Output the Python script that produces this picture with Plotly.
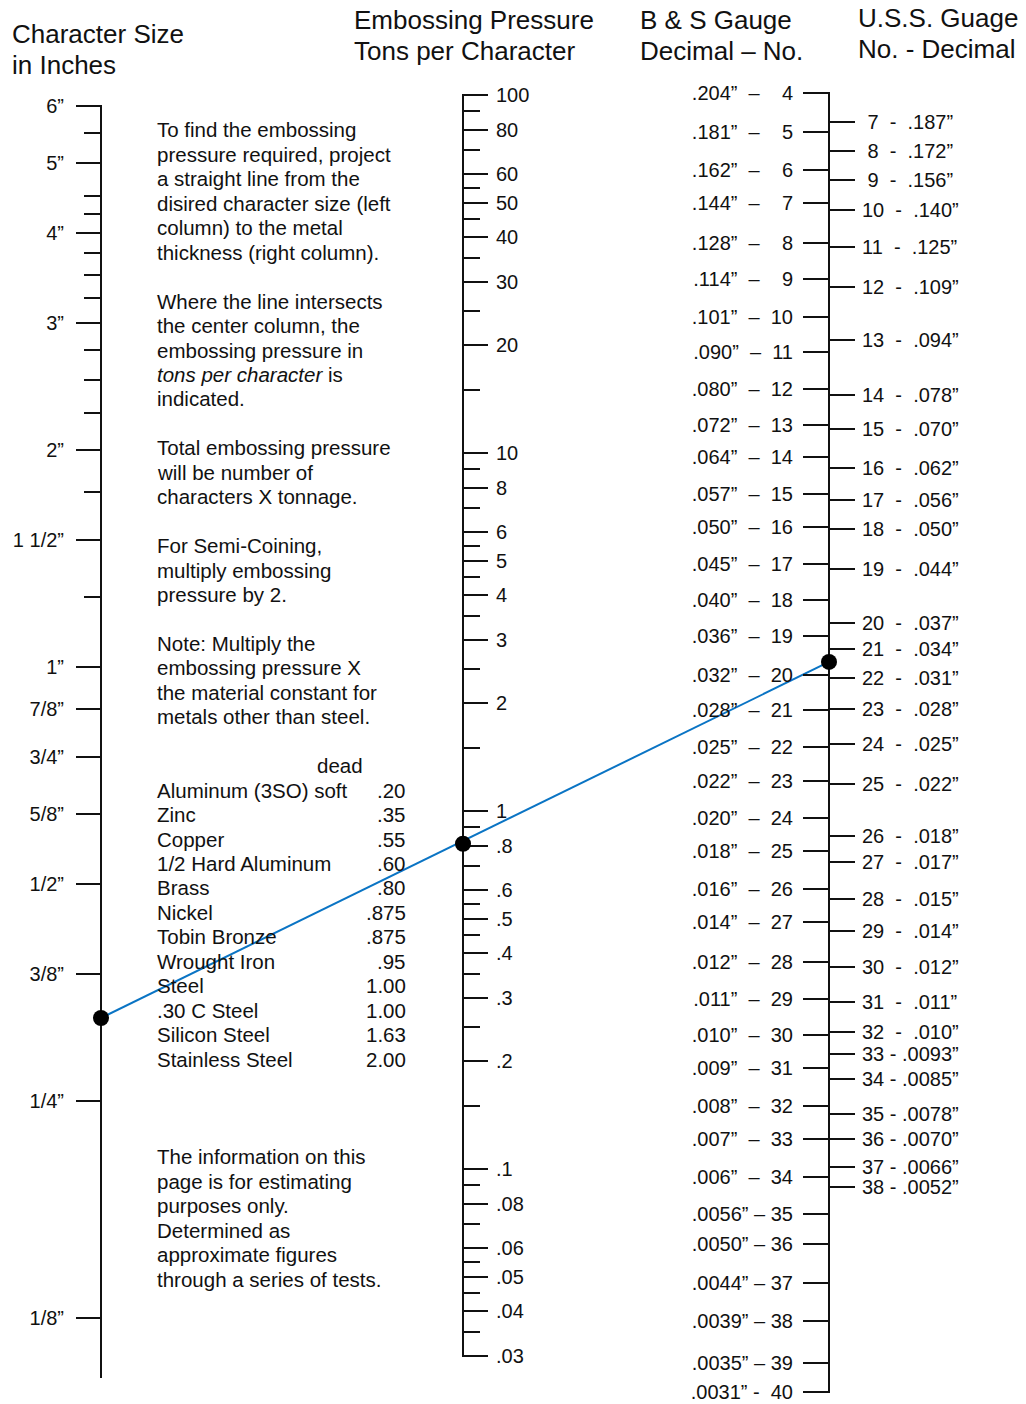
import math
import plotly.graph_objects as go

# ---------------- data ----------------
size_major_vals = [6, 5, 4, 3, 2, 1.5, 1, 0.875, 0.75, 0.625, 0.5, 0.375, 0.25, 0.125]
size_major_text = ["6”", "5”", "4”", "3”", "2”", "1 1/2”", "1”", "7/8”", "3/4”",
                   "5/8”", "1/2”", "3/8”", "1/4”", "1/8”"]
size_minor_vals = [5.5, 4.5, 4.25, 3.75, 3.5, 3.25, 2.75, 2.5, 2.25, 1.75, 1.25]

pressure_major_vals = [100, 80, 60, 50, 40, 30, 20, 10, 8, 6, 5, 4, 3, 2, 1,
                       0.8, 0.6, 0.5, 0.4, 0.3, 0.2, 0.1, 0.08, 0.06, 0.05, 0.04, 0.03]
pressure_major_text = ["100", "80", "60", "50", "40", "30", "20", "10", "8", "6", "5", "4", "3", "2", "1",
                       ".8", ".6", ".5", ".4", ".3", ".2", ".1", ".08", ".06", ".05", ".04", ".03"]
pressure_minor_vals = [90, 70, 55, 45, 35, 25, 15, 9, 7, 5.5, 4.5, 3.5, 2.5, 1.5,
                       0.9, 0.7, 0.55, 0.45, 0.35, 0.25, 0.15, 0.09, 0.07, 0.055, 0.045, 0.035]

bs_gauge = [4, 5, 6, 7, 8, 9, 10, 11, 12, 13, 14, 15, 16, 17, 18, 19, 20, 21, 22,
            23, 24, 25, 26, 27, 28, 29, 30, 31, 32, 33, 34, 35, 36, 37, 38, 39, 40]
bs_decimal = [".204", ".181", ".162", ".144", ".128", ".114", ".101", ".090", ".080", ".072",
              ".064", ".057", ".050", ".045", ".040", ".036", ".032", ".028", ".025", ".022",
              ".020", ".018", ".016", ".014", ".012", ".011", ".010", ".009", ".008", ".007",
              ".006", ".0056", ".0050", ".0044", ".0039", ".0035", ".0031"]
bs_tick_thickness = [0.204, 0.180, 0.159, 0.143, 0.126, 0.112, 0.0992, 0.0884, 0.0785, 0.0699,
                     0.0631, 0.0560, 0.0504, 0.0447, 0.0398, 0.0354, 0.0313, 0.0279, 0.0248, 0.0222,
                     0.0197, 0.0177, 0.0157, 0.0141, 0.0124, 0.0110, 0.0098, 0.0088, 0.0078, 0.0070,
                     0.0062, 0.0055, 0.0050, 0.0044, 0.0039, 0.0034, 0.0031]

uss_gauge = [7, 8, 9, 10, 11, 12, 13, 14, 15, 16, 17, 18, 19, 20, 21, 22, 23, 24, 25,
             26, 27, 28, 29, 30, 31, 32, 33, 34, 35, 36, 37, 38]
uss_decimal = [".187", ".172", ".156", ".140", ".125", ".109", ".094", ".078", ".070", ".062",
               ".056", ".050", ".044", ".037", ".034", ".031", ".028", ".025", ".022", ".018",
               ".017", ".015", ".014", ".012", ".011", ".010", ".0093", ".0085", ".0078", ".0070",
               ".0066", ".0052"]
uss_tick_thickness = [0.186, 0.169, 0.154, 0.140, 0.124, 0.109, 0.092, 0.077, 0.069, 0.061,
                      0.055, 0.050, 0.044, 0.037, 0.034, 0.031, 0.028, 0.025, 0.022, 0.0186,
                      0.0171, 0.0152, 0.0137, 0.0122, 0.0109, 0.0099, 0.0092, 0.0085, 0.0076, 0.0070,
                      0.0064, 0.0060]

# worked example drawn on the nomogram
example_size = 0.326        # inches
example_pressure = 0.81     # tons per character
example_thickness = 0.0326  # inches

materials = ["Aluminum (3SO) soft", "Zinc", "Copper", "1/2 Hard Aluminum", "Brass", "Nickel",
             "Tobin Bronze", "Wrought Iron", "Steel", ".30 C Steel", "Silicon Steel", "Stainless Steel"]
material_constant = [".20", ".35", ".55", ".60", ".80", ".875", ".875", ".95", "1.00", "1.00", "1.63", "2.00"]

column_titles = [["Character Size", "in Inches"],
                 ["Embossing Pressure", "Tons per Character"],
                 ["B & S Gauge", "Decimal – No."],
                 ["U.S.S. Guage", "No. - Decimal"]]

instructions = [
    ["To find the embossing", "pressure required, project", "a straight line from the",
     "disired character size (left", "column) to the metal", "thickness (right column)."],
    ["Where the line intersects", "the center column, the", "embossing pressure in",
     "<i>tons per character</i> is", "indicated."],
    ["Total embossing pressure", "will be number of", "characters X tonnage."],
    ["For Semi-Coining,", "multiply embossing", "pressure by 2."],
    ["Note: Multiply the", "embossing pressure X", "the material constant for",
     "metals other than steel."],
]
closing_note = ["The information on this", "page is for estimating", "purposes only.",
                "Determined as", "approximate figures", "through a series of tests."]
constant_header = "dead"

# ---------------- layout constants ----------------
W, H = 1026, 1404
FONT = "Liberation Sans, Arial, Helvetica, sans-serif"
INK = "#111111"
BLUE = "#0a74c4"
TICK_FONT = 20
TEXT_FONT = 20.5
TITLE_FONT = 26

SIZE_X, PRESS_X, GAUGE_X = 101, 463, 829
TEXT_X, CONST_RIGHT_X, HEADER_X = 155, 408, 315
LINE0, LINE_STEP = 130, 24.45
paragraph_rows = [0, 7, 13, 17, 21]
header_row, materials_row0, closing_row = 26, 27, 42
title_pos = [[(10, 34), (10, 65)], [(352, 20), (352, 51)], [(638, 20), (638, 51)], [(856, 18), (856, 49)]]

NBSP = "\u00a0"


def log_axis(top_val, top_px, bottom_px, px_per_decade, pad=0.6):
    # pad keeps the end ticks (and their labels) just inside the range
    r1 = math.log10(top_val) + pad / px_per_decade
    r0 = math.log10(top_val) - (bottom_px - top_px + pad) / px_per_decade
    return dict(type="log", range=[r0, r1],
                domain=[1 - (bottom_px + pad) / H, 1 - (top_px - pad) / H])


def styled(base, x_px, side, ticklen, standoff, tickvals, ticktext, minor_vals=None, minor_len=16):
    d = dict(base)
    d.update(anchor="free", position=x_px / W, side=side, showline=True, linecolor=INK, linewidth=2,
             ticks="outside", ticklen=ticklen, tickwidth=2, tickcolor=INK, tickmode="array",
             tickvals=tickvals, ticktext=ticktext,
             tickfont=dict(family=FONT, size=TICK_FONT, color=INK),
             showgrid=False, zeroline=False, fixedrange=True, ticklabelstandoff=standoff,
             ticklabeloverflow="allow", layer="below traces")
    if minor_vals:
        d["minor"] = dict(tickmode="array", tickvals=minor_vals, ticks="outside", ticklen=minor_len,
                          tickwidth=2, tickcolor=INK, showgrid=False)
    return d


size_scale = log_axis(6, 106, 1377, 721)
press_scale = log_axis(100, 95, 1356, 358)
gauge_scale = log_axis(0.204, 93, 1392, 714.4)


def paper_from_value(scale, v):
    d0, d1 = scale["domain"]
    r0, r1 = scale["range"]
    return d0 + (math.log10(v) - r0) / (r1 - r0) * (d1 - d0)


def value_from_paper(scale, f):
    d0, d1 = scale["domain"]
    r0, r1 = scale["range"]
    return 10 ** (r0 + (f - d0) / (d1 - d0) * (r1 - r0))


# tick labels for gauge columns
bs_labels = []
for g, d in zip(bs_gauge, bs_decimal):
    if g < 10:
        bs_labels.append(f"{d}”{NBSP*2}–{NBSP*4}{g}")
    elif g < 35:
        bs_labels.append(f"{d}”{NBSP*2}–{NBSP*2}{g}")
    elif g < 40:
        bs_labels.append(f"{d}”{NBSP}–{NBSP}{g}")
    else:
        bs_labels.append(f"{d}”{NBSP}-{NBSP*2}{g}")

uss_labels = []
for g, d in zip(uss_gauge, uss_decimal):
    if g < 10:
        uss_labels.append(f"{NBSP}{g}{NBSP*2}-{NBSP*2}{d}”")
    elif g < 33:
        uss_labels.append(f"{g}{NBSP*2}-{NBSP*2}{d}”")
    else:
        uss_labels.append(f"{g}{NBSP}-{NBSP}{d}”")

fig = go.Figure()

# example line (drawn on the left scale, ending at the gauge-scale thickness)
right_end_in_size_units = value_from_paper(size_scale, paper_from_value(gauge_scale, example_thickness))
fig.add_trace(go.Scatter(x=[SIZE_X / W, GAUGE_X / W], y=[example_size, right_end_in_size_units],
                         mode="lines", line=dict(color=BLUE, width=2), xaxis="x", yaxis="y",
                         hoverinfo="skip", showlegend=False))
dot = dict(color="black", size=16)
fig.add_trace(go.Scatter(x=[SIZE_X / W], y=[example_size], mode="markers", marker=dot,
                         xaxis="x", yaxis="y", showlegend=False, cliponaxis=False))
fig.add_trace(go.Scatter(x=[PRESS_X / W], y=[example_pressure], mode="markers", marker=dot,
                         xaxis="x", yaxis="y2", showlegend=False, cliponaxis=False))
fig.add_trace(go.Scatter(x=[GAUGE_X / W], y=[example_thickness], mode="markers", marker=dot,
                         xaxis="x", yaxis="y3", showlegend=False, cliponaxis=False))
fig.add_trace(go.Scatter(x=[GAUGE_X / W], y=[example_thickness], mode="markers",
                         marker=dict(color="rgba(0,0,0,0)", size=1),
                         xaxis="x", yaxis="y4", showlegend=False, hoverinfo="skip"))

annotations = []


def add_text(text, x_px, y_px, size=TEXT_FONT, xanchor="left"):
    annotations.append(dict(text=text, x=x_px / W, y=1 - y_px / H, xref="paper", yref="paper",
                            xanchor=xanchor, yanchor="middle", showarrow=False, align=xanchor,
                            font=dict(family=FONT, size=size, color=INK)))


for lines, positions in zip(column_titles, title_pos):
    for t, (x, y) in zip(lines, positions):
        add_text(t, x, y, size=TITLE_FONT)

for row0, para in zip(paragraph_rows, instructions):
    for i, t in enumerate(para):
        add_text(t, TEXT_X, LINE0 + LINE_STEP * (row0 + i))

add_text(constant_header, HEADER_X, LINE0 + LINE_STEP * header_row)
for i, (m, c) in enumerate(zip(materials, material_constant)):
    y = LINE0 + LINE_STEP * (materials_row0 + i)
    add_text(m, TEXT_X, y)
    add_text(c, CONST_RIGHT_X, y, xanchor="right")

for i, t in enumerate(closing_note):
    add_text(t, TEXT_X, LINE0 + LINE_STEP * (closing_row + i))

fig.update_layout(
    width=W, height=H, autosize=False,
    margin=dict(l=0, r=0, t=0, b=0, pad=0, autoexpand=False),
    paper_bgcolor="white", plot_bgcolor="rgba(0,0,0,0)",
    showlegend=False,
    xaxis=dict(domain=[0, 1], range=[0, 1], visible=False, fixedrange=True),
    yaxis=styled(size_scale, SIZE_X, "left", 24, 8, size_major_vals, size_major_text, size_minor_vals),
    yaxis2=styled(press_scale, PRESS_X, "right", 24, 4, pressure_major_vals, pressure_major_text,
                  pressure_minor_vals),
    yaxis3=styled(gauge_scale, GAUGE_X, "left", 25, 6, bs_tick_thickness, bs_labels),
    yaxis4=dict(styled(gauge_scale, GAUGE_X, "right", 25, 3, uss_tick_thickness, uss_labels),
                overlaying="y3"),
    annotations=annotations,
)

fig.write_html("out.html", config={"displayModeBar": False},
               post_script="document.body.style.margin='0';")
